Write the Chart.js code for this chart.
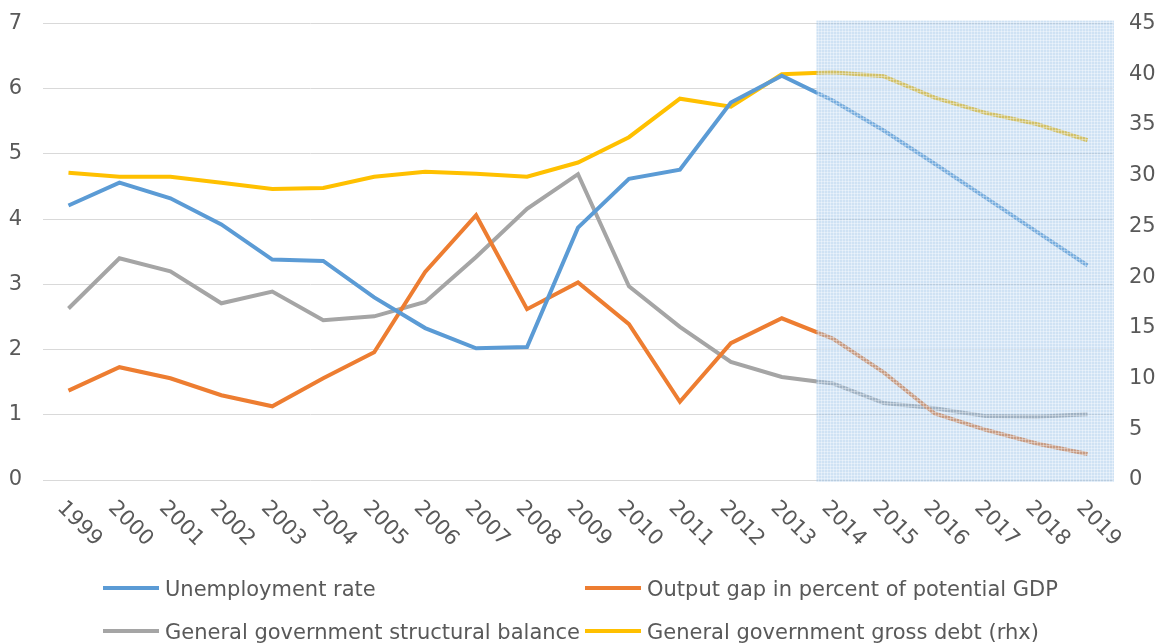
<!DOCTYPE html>
<html>
<head>
<meta charset="utf-8">
<script src="https://cdn.jsdelivr.net/npm/chart.js@4.4.1/dist/chart.umd.min.js"></script>
<style>
  html, body { margin: 0; padding: 0; background: #fff; overflow: hidden; }
  #wrap { position: relative; width: 1162px; height: 644px; overflow: hidden; }
  canvas { position: absolute; left: 0; top: -10px; }
  .leg { position: absolute; font-family: "DejaVu Sans", Verdana, sans-serif; font-size: 21px; color: #595959; white-space: nowrap; line-height: 24px; }
  .leg span.sw { display: inline-block; width: 56px; height: 4px; vertical-align: middle; margin-right: 6px; position: relative; top: -2px; }
</style>
</head>
<body>
<div id="wrap">
  <canvas id="c" width="1162" height="654"></canvas>
  <div class="leg" style="left:103px; top:577px;"><span class="sw" style="background:#5B9BD5"></span>Unemployment rate</div>
  <div class="leg" style="left:585px; top:577px;"><span class="sw" style="background:#ED7D31"></span>Output gap in percent of potential GDP</div>
  <div class="leg" style="left:103px; top:620px;"><span class="sw" style="background:#A5A5A5"></span>General government structural balance</div>
  <div class="leg" style="left:585px; top:620px;"><span class="sw" style="background:#FFC000"></span>General government gross debt (rhx)</div>
</div>
<script>
const years = ["1999","2000","2001","2002","2003","2004","2005","2006","2007","2008","2009","2010","2011","2012","2013","2014","2015","2016","2017","2018","2019"];
const unemployment = [4.21,4.56,4.32,3.92,3.38,3.36,2.80,2.33,2.02,2.04,3.87,4.62,4.76,5.79,6.20,5.82,5.36,4.85,4.33,3.81,3.29];
const outputGap = [1.37,1.73,1.56,1.30,1.13,1.56,1.96,3.19,4.06,2.62,3.03,2.39,1.20,2.10,2.48,2.17,1.65,1.02,0.77,0.56,0.40];
const structBalance = [2.63,3.40,3.20,2.71,2.89,2.45,2.51,2.73,3.42,4.16,4.69,2.97,2.35,1.81,1.58,1.48,1.18,1.10,0.98,0.97,1.01];
const grossDebt = [30.3,29.9,29.9,29.3,28.7,28.8,29.9,30.4,30.2,29.9,31.3,33.8,37.6,36.8,40.0,40.2,39.8,37.7,36.2,35.1,33.5];
const leftTicks = [0,1,2,3,4,5,6,7];
const rightTicks = [0,5,10,15,20,25,30,35,40,45];
const forecastStart = "2013";

const FONT = '"DejaVu Sans", Verdana, sans-serif';
const TXT = '#595959';

function makePattern(ctx) {
  const p = document.createElement('canvas');
  p.width = 3; p.height = 3;
  const g = p.getContext('2d');
  g.fillStyle = 'rgba(150,192,232,0.46)';
  g.fillRect(0,0,3,3);
  g.fillStyle = 'rgba(255,255,255,0.35)';
  g.fillRect(0,2,3,1);
  g.fillRect(2,0,1,3);
  return ctx.createPattern(p, 'repeat');
}

const shadePlugin = {
  id: 'shade',
  afterDatasetsDraw(chart) {
    const {ctx, chartArea, scales} = chart;
    const x = scales.x;
    const i = years.indexOf(forecastStart);
    const step = x.getPixelForValue(i + 1) - x.getPixelForValue(i);
    const x0 = x.getPixelForValue(i) + step * 0.68;
    ctx.save();
    ctx.fillStyle = makePattern(ctx);
    ctx.fillRect(x0, chartArea.top - 3, chartArea.right + 1 - x0, chartArea.bottom - chartArea.top + 5);
    ctx.restore();
  }
};

const xLabelPlugin = {
  id: 'xlabels',
  afterDraw(chart) {
    const {ctx, scales, chartArea} = chart;
    const x = scales.x;
    ctx.save();
    ctx.font = '21px ' + FONT;
    ctx.fillStyle = TXT;
    ctx.textAlign = 'left';
    ctx.textBaseline = 'middle';
    years.forEach((y, i) => {
      const px = x.getPixelForValue(i);
      ctx.save();
      ctx.translate(px - 8, chartArea.bottom + 25);
      ctx.rotate(Math.PI / 4);
      ctx.fillText(y, 0, 0);
      ctx.restore();
    });
    ctx.restore();
  }
};

const ds = (label, data, color, axis) => ({
  label, data, borderColor: color, backgroundColor: color, yAxisID: axis,
  borderWidth: 4, pointRadius: 0, tension: 0, fill: false
});

new Chart(document.getElementById('c'), {
  type: 'line',
  data: {
    labels: years,
    datasets: [
      ds('Unemployment rate', unemployment, '#5B9BD5', 'y'),
      ds('Output gap in percent of potential GDP', outputGap, '#ED7D31', 'y'),
      ds('General government structural balance', structBalance, '#A5A5A5', 'y'),
      ds('General government gross debt (rhx)', grossDebt, '#FFC000', 'y1')
    ]
  },
  options: {
    responsive: false,
    animation: false,
    events: [],
    layout: { padding: { top: 13, right: 0, bottom: 0, left: 0 } },
    plugins: { legend: { display: false }, tooltip: { enabled: false } },
    scales: {
      x: {
        offset: true,
        grid: { display: false },
        border: { display: false },
        ticks: { display: false },
        afterFit(s) { s.height = 164; }
      },
      y: {
        position: 'left',
        min: 0, max: 7,
        afterBuildTicks(s) { s.ticks = leftTicks.map(v => ({ value: v })); },
        grid: { color: '#D9D9D9', lineWidth: 1, drawTicks: false },
        border: { display: false },
        ticks: { color: TXT, font: { family: FONT, size: 21 }, padding: 21 },
        afterFit(s) { s.width = 43; }
      },
      y1: {
        position: 'right',
        min: 0, max: 45,
        afterBuildTicks(s) { s.ticks = rightTicks.map(v => ({ value: v })); },
        grid: { drawOnChartArea: false, drawTicks: false },
        border: { display: false },
        ticks: { color: TXT, font: { family: FONT, size: 21 }, padding: 16 },
        afterFit(s) { s.width = 49; }
      }
    }
  },
  plugins: [shadePlugin, xLabelPlugin]
});
</script>
</body>
</html>
